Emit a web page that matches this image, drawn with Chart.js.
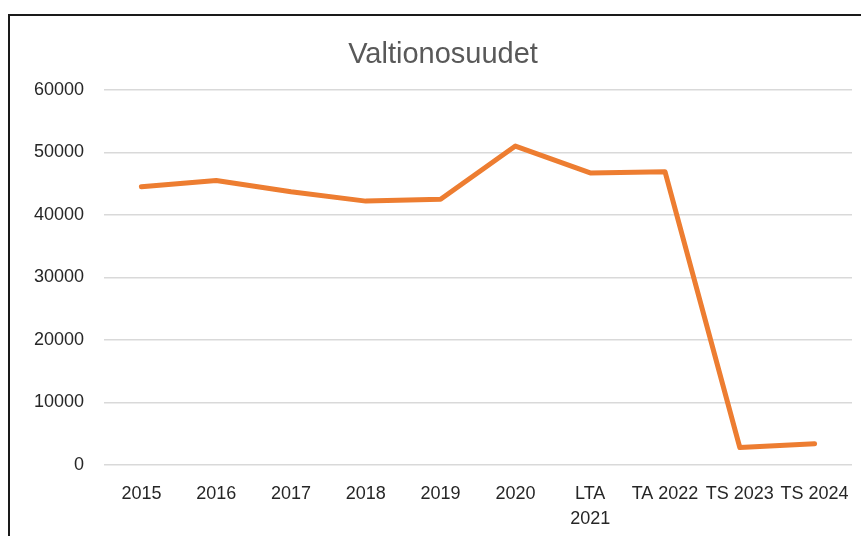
<!DOCTYPE html>
<html>
<head>
<meta charset="utf-8">
<script src="https://cdn.jsdelivr.net/npm/chart.js@4"></script>
<style>
  html, body { margin: 0; padding: 0; background: #fff; overflow: hidden; }
  #wrap { position: relative; width: 861px; height: 536px; }
  #frame { position: absolute; left: 8px; top: 14px; width: 880px; height: 560px;
           border: 2px solid #1a1a1a; box-sizing: border-box; pointer-events: none; }
  canvas { position: absolute; left: 0; top: 0; }
</style>
</head>
<body>
<div id="wrap">
  <canvas id="chart" width="861" height="536"></canvas>
  <div id="frame"></div>
</div>
<script>
const categories = ['2015', '2016', '2017', '2018', '2019', '2020', ['LTA', '2021'], 'TA 2022', 'TS 2023', 'TS 2024'];
const valtionosuudet = [44500, 45500, 43700, 42200, 42500, 51000, 46700, 46900, 2800, 3400];
const yTicks = [0, 10000, 20000, 30000, 40000, 50000, 60000];

const ctx = document.getElementById('chart');

let chart = new Chart(ctx, {
    type: 'line',
    data: {
        labels: categories,
        datasets: [{
            label: 'Valtionosuudet',
            data: valtionosuudet,
            borderColor: '#ED7D31',
            borderWidth: 5,
            borderJoinStyle: 'round',
            borderCapStyle: 'round',
            pointRadius: 0,
            tension: 0,
            fill: false
        }]
    },
    options: {
        responsive: false,
        animation: false,
        layout: {
            padding: { left: 34, right: 9, top: 0, bottom: 0 }
        },
        plugins: {
            legend: { display: false },
            tooltip: { enabled: false },
            title: {
                display: true,
                text: 'Valtionosuudet',
                color: '#595959',
                font: { family: 'Liberation Sans', size: 29, weight: 'normal' },
                padding: { top: 38, bottom: 17 }
            }
        },
        scales: {
            x: {
                offset: true,
                grid: { display: false },
                border: { display: false },
                ticks: {
                    color: '#262626',
                    font: { family: 'Liberation Sans', size: 18, lineHeight: 1.39 },
                    maxRotation: 0,
                    autoSkip: false,
                    padding: 9
                },
                afterFit: (scale) => { scale.height = 71; }
            },
            y: {
                min: 0,
                max: 60000,
                afterBuildTicks: (scale) => { scale.ticks = yTicks.map(v => ({ value: v })); },
                grid: { color: '#d9d9d9', lineWidth: 1.5, drawTicks: false },
                border: { display: false },
                ticks: {
                    color: '#262626',
                    font: { family: 'Liberation Sans', size: 18 },
                    padding: 20,
                    callback: (v) => String(v)
                },
                afterFit: (scale) => { scale.width = 70; }
            }
        }
    }
});
</script>
</body>
</html>
